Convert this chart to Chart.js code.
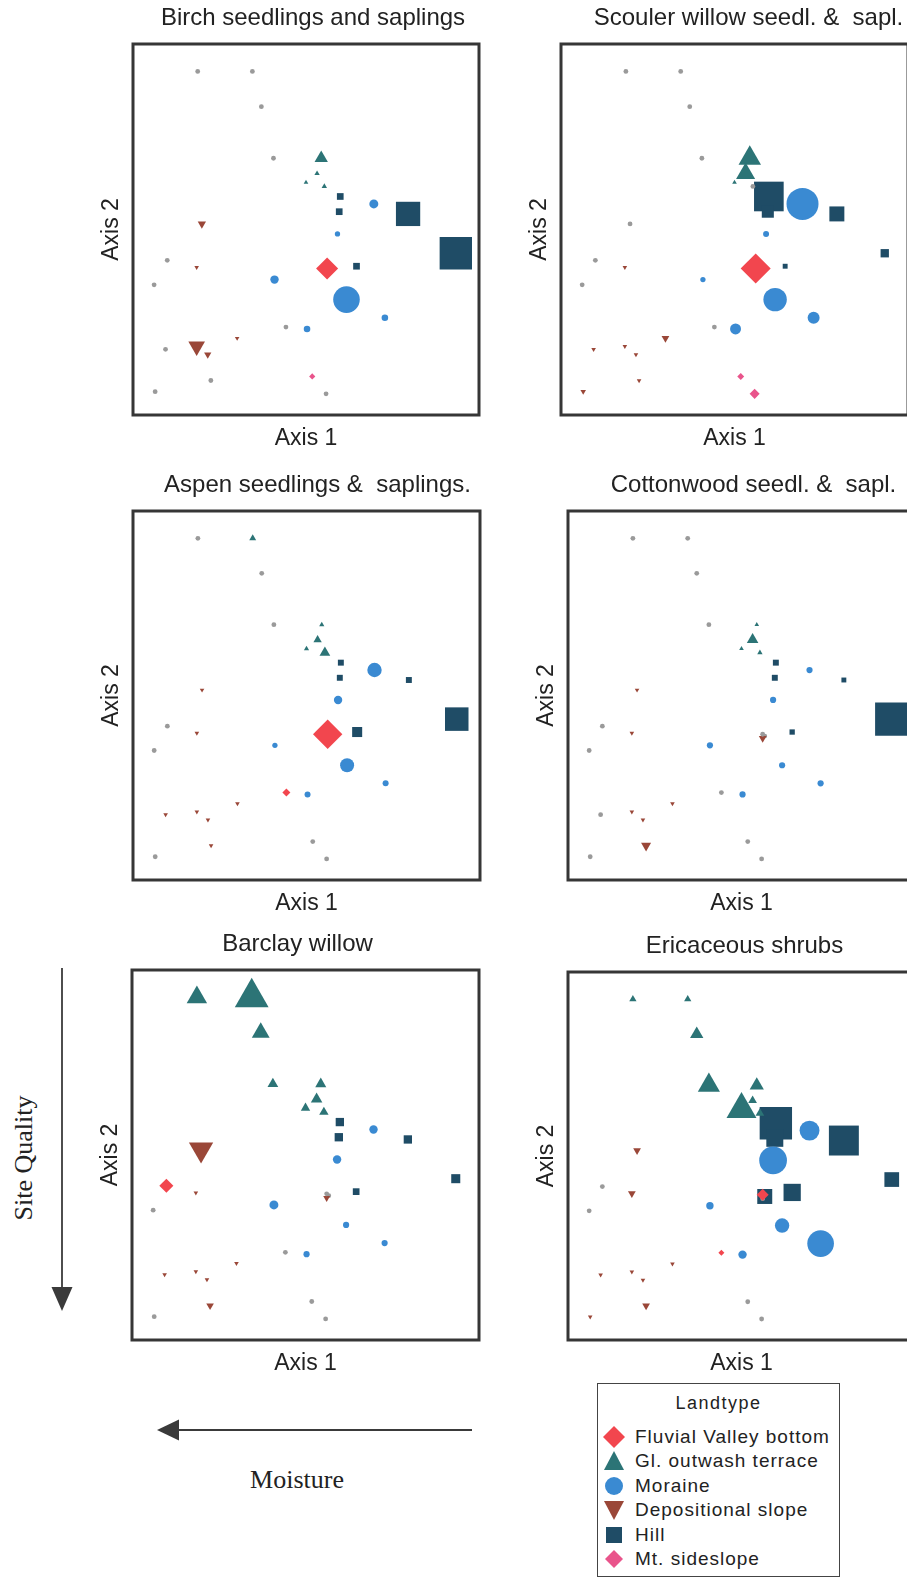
<!DOCTYPE html>
<html>
<head>
<meta charset="utf-8">
<title>Seedling and shrub abundance by landtype</title>
<script src="https://cdn.jsdelivr.net/npm/chart.js@4.4.1/dist/chart.umd.min.js"></script>
<style>
  html, body { margin: 0; padding: 0; background: #fff; overflow: hidden; }
  #page { position: relative; width: 907px; height: 1579px; overflow: hidden; color: #222;
          font-family: "Liberation Sans", Arial, sans-serif; }
  #page canvas { position: absolute; }
  #arrows { position: absolute; left: 0; top: 0; }
  .serif { position: absolute; font-family: "Liberation Serif", "Times New Roman", serif; font-size: 26px;
           line-height: 26px; white-space: nowrap; }
  #siteQuality { left: 24px; top: 1158px; transform: translate(-50%, -50%) rotate(-90deg); }
  #moisture { left: 297px; top: 1480px; transform: translate(-50%, -50%); }
  #legend { position: absolute; left: 597px; top: 1383px; width: 243px; height: 194px; box-sizing: border-box;
            border: 1px solid #444; }
  #legendTitle { position: absolute; left: 0; right: 0; top: 9px; text-align: center; font-size: 18px;
                 line-height: 20px; letter-spacing: 1.5px; }
  .legendRow { position: absolute; left: 0; height: 24px; display: flex; align-items: center; font-size: 19px;
               letter-spacing: 1px; white-space: nowrap; }
  .legendRow svg { margin-left: 5px; margin-right: 10px; }
</style>
</head>
<body>
<div id="page">
  <svg id="arrows" width="907" height="1579">
    <line x1="62" y1="968" x2="62" y2="1290" stroke="#3a3a3a" stroke-width="1.8"/>
    <polygon points="51.5,1287 72.5,1287 62,1311" fill="#3a3a3a"/>
    <line x1="176" y1="1430" x2="472" y2="1430" stroke="#3a3a3a" stroke-width="2.2"/>
    <polygon points="179,1419.5 179,1440.5 157,1430" fill="#3a3a3a"/>
  </svg>
  <div class="serif" id="siteQuality">Site Quality</div>
  <div class="serif" id="moisture">Moisture</div>
  <div id="legend"><div id="legendTitle">Landtype</div></div>
</div>
<script>
// landtype classes (legend order)
const landtypes = ['Fluvial Valley bottom', 'Gl. outwash terrace', 'Moraine', 'Depositional slope', 'Hill', 'Mt. sideslope'];

// plot scores on the ordination axes (0-100 across the frame); same plots in every panel
const axis1 = [18.7, 34.5, 37.1, 40.6, 54.4, 53.2, 50.0, 55.3, 59.9, 59.6, 69.6, 79.5, 59.1, 19.9, 93.3, 9.9, 18.4, 56.1,
               64.6, 6.1, 40.9, 61.7, 72.8, 44.2, 50.3, 30.1, 9.4, 18.4, 21.6, 22.5, 6.4, 51.8, 55.8, 56.1, 56.7];
const axis2 = [92.6, 92.6, 83.1, 69.2, 69.2, 65.1, 62.7, 61.6, 58.9, 54.8, 56.9, 54.2, 48.8, 51.5, 43.6, 41.7, 39.8, 39.5,
               40.1, 35.1, 36.5, 31.1, 26.2, 23.7, 23.2, 20.7, 17.7, 18.5, 16.3, 9.3, 6.3, 10.4, 5.7, 38.4, 39.0];
// landtype of each plot (index into landtypes)
const plotLandtype = [1, 1, 1, 1, 1, 1, 1, 1, 4, 4, 2, 4, 2, 3, 4, 0, 3, 0,
                      4, 2, 2, 2, 2, 0, 2, 3, 3, 3, 3, 3, 3, 5, 5, 3, 4];

// abundance of each species group per plot (relative cover)
const birch      = [0, 0, 0, 0, 7.6, 0.2, 0.05, 0.2, 1.6, 1.6, 1.3, 56, 0.05, 1.7, 107, 0, 0.05, 19.4,
                    1.6, 0, 1, 30.8, 0.3, 0, 0.3, 0.05, 0, 13.7, 1, 0, 0, 0.2, 0, 0, 0];
const scouler    = [0, 0, 0, 0, 29, 19.4, 0.05, 0, 88, 10, 47.6, 17.6, 0.16, 0, 3.4, 0, 0.05, 41,
                    0.4, 0, 0.05, 22.6, 3.6, 0, 2.7, 1.3, 0.05, 0.05, 0.05, 0.05, 0.25, 0.4, 2, 0, 0];
const aspen      = [0, 0.8, 0, 0, 0.16, 1.7, 0.16, 4, 1, 1, 6.2, 1, 1, 0.05, 52, 0, 0.05, 39,
                    6, 0, 0.05, 5.8, 0.16, 0.8, 0.16, 0.05, 0.05, 0.05, 0.05, 0.05, 0, 0, 0, 0, 0];
const cottonwood = [0, 0, 0, 0, 0.05, 5, 0.05, 0.2, 1, 1, 0.2, 0.4, 0.2, 0.05, 114, 0, 0.05, 0,
                    0.6, 0, 0.2, 0.2, 0.2, 0, 0.2, 0.05, 0, 0.05, 0.05, 3.2, 0, 0, 0, 1.3, 0];
const barclay    = [23, 75, 16.4, 4, 4.4, 5, 2.6, 2.6, 3.4, 3.4, 1, 3.4, 1, 35, 4.4, 5.8, 0.05, 0,
                    1.6, 0, 1.3, 0.2, 0.2, 0, 0.2, 0.05, 0.05, 0.05, 0.05, 1.2, 0, 0, 0, 0.8, 0];
const ericaceous = [1, 1, 7.6, 28, 9, 2, 57, 2, 107, 24, 15, 90, 34, 1.3, 16.8, 0, 1.3, 3.6,
                    25, 0, 0.56, 6.2, 31, 0.16, 1, 0.05, 0.05, 0.05, 0.05, 1.3, 0.05, 0, 0, 0, 17.6];

const panelTitles = ['Birch seedlings and saplings', 'Scouler willow seedl. &  sapl.', 'Aspen seedlings &  saplings.',
                     'Cottonwood seedl. &  sapl.', 'Barclay willow', 'Ericaceous shrubs'];
const panelCover = [birch, scouler, aspen, cottonwood, barclay, ericaceous];

// styling
const landtypeColor = ['#f2464e', '#2c7476', '#3a8ad2', '#9a4738', '#1f4c66', '#e9548b'];
const landtypeShape = ['rectRot', 'triangle', 'circle', 'triangle', 'rect', 'rectRot'];
const landtypeRotation = [0, 0, 0, 180, 0, 0];
const drawOrder = [0, 5, 2, 1, 3, 4]; // first one ends up on top
const ZERO_COLOR = '#9a9a9a';
const FONT = '"Liberation Sans", Arial, sans-serif';

// frame of each panel on the page; titleShift = title centre offset from frame centre
const panelFrames = [
  {left: 133, top: 44, width: 346, height: 371, titleShift: 7},
  {left: 561, top: 44, width: 347, height: 371, titleShift: 14},
  {left: 133, top: 511, width: 347, height: 369, titleShift: 11},
  {left: 568, top: 511, width: 347, height: 369, titleShift: 12},
  {left: 132, top: 970, width: 347, height: 370, titleShift: -8},
  {left: 568, top: 972, width: 347, height: 368, titleShift: 3}
];
const TITLE_H = 38, Y_AXIS_W = 36, X_AXIS_H = 38, PAD_RIGHT = 4;

function markerRadius(a) {
  return a > 0 ? 2.2 + 2 * Math.sqrt(a) : 2.4;
}

const frameBorder = {
  id: 'frameBorder',
  beforeDatasetsDraw(chart) {
    const {ctx, chartArea: a} = chart;
    ctx.save();
    ctx.strokeStyle = '#363636';
    ctx.lineWidth = 3;
    ctx.strokeRect(a.left, a.top, a.right - a.left, a.bottom - a.top);
    ctx.restore();
  }
};

const page = document.getElementById('page');

panelTitles.forEach(function (title, p) {
  const f = panelFrames[p];
  // empty right-hand gutter inside the layout, so the full-width title sits where the original has it
  const gutter = Y_AXIS_W + 2 * f.titleShift;
  const canvas = document.createElement('canvas');
  canvas.width = Y_AXIS_W + f.width + gutter + PAD_RIGHT;
  canvas.height = TITLE_H + f.height + X_AXIS_H;
  canvas.style.left = (f.left - Y_AXIS_W) + 'px';
  canvas.style.top = (f.top - TITLE_H) + 'px';
  page.appendChild(canvas);

  const cover = panelCover[p];
  const isZero = ctx => !(ctx.raw && ctx.raw.a > 0);
  const datasets = drawOrder.map(t => ({
    label: landtypes[t],
    data: axis1.map((x, i) => ({x: x, y: axis2[i], a: cover[i], t: plotLandtype[i]})).filter(d => d.t === t),
    pointStyle: ctx => isZero(ctx) ? 'circle' : landtypeShape[t],
    pointRotation: landtypeRotation[t],
    pointRadius: ctx => markerRadius(ctx.raw ? ctx.raw.a : 0),
    pointBackgroundColor: ctx => isZero(ctx) ? ZERO_COLOR : landtypeColor[t],
    pointBorderWidth: 0,
    clip: false
  }));

  new Chart(canvas, {
    type: 'scatter',
    data: {datasets: datasets},
    options: {
      responsive: false,
      animation: false,
      devicePixelRatio: 1,
      events: [],
      layout: {padding: {left: 0, top: 0, right: PAD_RIGHT, bottom: 0}, autoPadding: false},
      plugins: {
        legend: {display: false},
        tooltip: {enabled: false},
        title: {
          display: true,
          text: title,
          color: '#222',
          font: {family: FONT, size: 24, weight: 'normal', lineHeight: 1},
          padding: {top: 0, bottom: 14}
        }
      },
      scales: {
        x: {
          type: 'linear', min: 0, max: 100,
          grid: {display: false, drawTicks: false},
          border: {display: false},
          ticks: {display: false},
          title: {display: true, text: 'Axis 1', color: '#222',
                  font: {family: FONT, size: 23, lineHeight: 1}, padding: {top: 12, bottom: 3}}
        },
        y: {
          type: 'linear', min: 0, max: 100,
          grid: {display: false, drawTicks: false},
          border: {display: false},
          ticks: {display: false},
          title: {display: true, text: 'Axis 2', color: '#222',
                  font: {family: FONT, size: 23, lineHeight: 1}, padding: {top: 3, bottom: 10}}
        },
        gutter: {
          type: 'linear', position: 'right', min: 0, max: 100,
          grid: {display: false, drawTicks: false},
          border: {display: false},
          ticks: {display: false},
          title: {display: true, text: '', font: {size: 1, lineHeight: 1}, padding: {top: 0, bottom: gutter - 1}}
        }
      }
    },
    plugins: [frameBorder]
  });
});

// shared legend
const legendMarkers = [
  '<polygon points="11,0 22,11 11,22 0,11"/>',
  '<polygon points="11,1 21,20 1,20"/>',
  '<circle cx="11" cy="11" r="9"/>',
  '<polygon points="1,2 21,2 11,21"/>',
  '<rect x="3" y="3" width="16" height="16"/>',
  '<polygon points="11,2 20,11 11,20 2,11"/>'
];
const legend = document.getElementById('legend');
landtypes.forEach(function (name, t) {
  const row = document.createElement('div');
  row.className = 'legendRow';
  row.style.top = (41 + 24.4 * t) + 'px';
  row.innerHTML = '<svg width="22" height="22" fill="' + landtypeColor[t] + '">' + legendMarkers[t] + '</svg>' +
                  '<span>' + name + '</span>';
  legend.appendChild(row);
});
</script>
</body>
</html>
